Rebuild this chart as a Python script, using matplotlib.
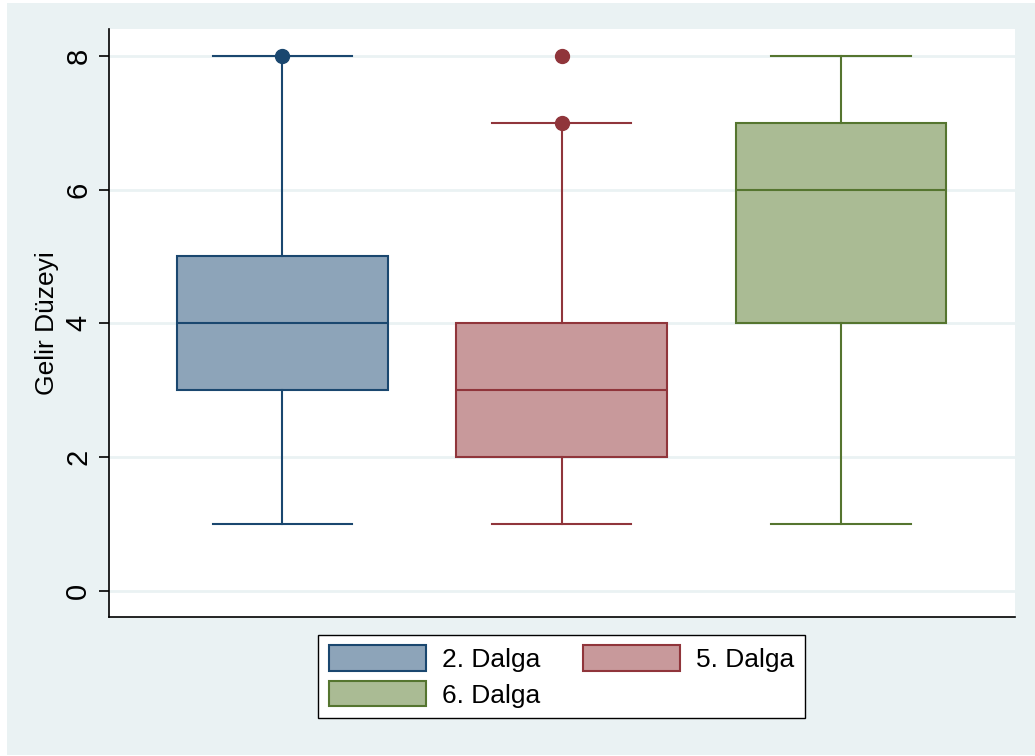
import matplotlib
matplotlib.use("Agg")
import matplotlib.pyplot as plt
from matplotlib.patches import Rectangle, Patch

plt.rcParams['font.family'] = ['Liberation Sans', 'DejaVu Sans']

# Survey waves and their income-level box summaries
waves = ["2. Dalga", "5. Dalga", "6. Dalga"]
q1 = [3, 2, 4]
median = [4, 3, 6]
q3 = [5, 4, 7]
whisker_low = [1, 1, 1]
whisker_high = [8, 7, 8]
outliers = [[8], [7, 8], []]

yticks = [0, 2, 4, 6, 8]
ylabel = "Gelir Düzeyi"

edge_colors = ["#1a476f", "#90353b", "#55752f"]
fill_colors = ["#8da4b9", "#c8999b", "#aabb94"]
bg = "#eaf2f3"

W, H = 1035, 756
fig = plt.figure(figsize=(W / 100, H / 100), dpi=100, facecolor="white")
fig.patches.append(Rectangle((7 / W, 1 / H), (W - 7) / W, (H - 4) / H,
                             transform=fig.transFigure, facecolor=bg,
                             edgecolor="none", zorder=-10))

ax = fig.add_axes([109 / W, 1 - 617 / H, (1015 - 109) / W, (617 - 29) / H])
ax.set_facecolor("white")

stats = []
for i, name in enumerate(waves):
    stats.append(dict(label=name, med=median[i], q1=q1[i], q3=q3[i],
                      whislo=whisker_low[i], whishi=whisker_high[i],
                      fliers=outliers[i]))

positions = [1, 2, 3]
lw = 1.5
for i, s in enumerate(stats):
    c = edge_colors[i]
    ax.bxp([s], positions=[positions[i]], widths=0.755, patch_artist=True,
           showfliers=True,
           boxprops=dict(facecolor=fill_colors[i], edgecolor=c, linewidth=lw),
           medianprops=dict(color=c, linewidth=lw),
           whiskerprops=dict(color=c, linewidth=lw),
           capprops=dict(color=c, linewidth=lw),
           capwidths=0.498,
           flierprops=dict(marker="o", markerfacecolor=c, markeredgecolor=c,
                           markersize=10),
           zorder=3)

ax.set_xlim(0.379, 3.623)
ax.set_ylim(-0.389, 8.40)
ax.set_yticks(yticks)
ax.set_yticklabels([str(t) for t in yticks])
ax.set_xticks([])
ax.grid(axis="y", color=bg, linewidth=2, zorder=0)
ax.set_axisbelow(True)

for side in ("top", "right"):
    ax.spines[side].set_visible(False)
for side in ("left", "bottom"):
    ax.spines[side].set_color("black")
    ax.spines[side].set_linewidth(1.2)

ax.tick_params(axis="y", length=7.5, width=1.2, pad=4.5, labelsize=21,
               labelrotation=90)
for lab in ax.get_yticklabels():
    lab.set_va("center")
ax.set_ylabel(ylabel, fontsize=19, labelpad=4)

handles = [Patch(facecolor=fill_colors[i], edgecolor=edge_colors[i],
                 linewidth=lw, label=waves[i]) for i in range(3)]
order = [0, 2, 1]
leg = fig.legend([handles[i] for i in order], [waves[i] for i in order],
                 ncol=2, loc="center",
                 bbox_to_anchor=(561.5 / W, 1 - 676.5 / H),
                 fontsize=19, frameon=True, fancybox=False, shadow=False,
                 framealpha=1.0,
                 handlelength=3.7, handleheight=1.1, handletextpad=0.6,
                 columnspacing=1.6, labelspacing=0.35, borderpad=0.4)
leg.get_frame().set_edgecolor("black")
leg.get_frame().set_linewidth(1.0)
leg.get_frame().set_facecolor("white")

fig.savefig("out.png", dpi=100, facecolor=fig.get_facecolor())
